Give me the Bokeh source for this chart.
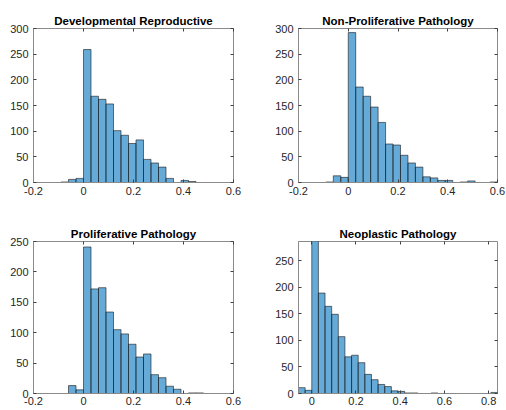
import numpy as np
from bokeh.plotting import figure
from bokeh.layouts import gridplot
from bokeh.models import Range1d, FixedTicker, LinearAxis
from bokeh.embed import file_html
from bokeh.resources import INLINE

# ---------------- data ----------------
titles = ["Developmental Reproductive", "Non-Proliferative Pathology",
          "Proliferative Pathology", "Neoplastic Pathology"]

bin_width = 0.03

dev_start = -0.09
dev_counts = [1, 6, 8, 259, 168, 162, 153, 101, 92, 76, 83, 45, 38, 30, 8, 0, 4, 2]

nonprolif_start = -0.09
nonprolif_counts = [1, 13, 10, 292, 186, 168, 147, 117, 75, 73, 53, 38, 30, 11, 9,
                    4, 4, 0, 1, 3, 0, 0, 1]

prolif_start = -0.06
prolif_counts = [13, 6, 241, 172, 174, 134, 105, 98, 81, 60, 65, 31, 26, 12, 7, 0, 1, 1]

neo_start = -0.06
neo_counts = [11, 6, 300, 189, 164, 149, 107, 69, 72, 58, 36, 26, 17, 13, 5, 4, 1, 1,
              0, 0, 1, 0, 0, 0, 0, 0, 0, 0, 0, 2]

x_ticks_a = [-0.2, 0.0, 0.2, 0.4, 0.6]
x_labels_a = ["-0.2", "0", "0.2", "0.4", "0.6"]
x_ticks_b = [0.0, 0.2, 0.4, 0.6, 0.8]
x_labels_b = ["0", "0.2", "0.4", "0.6", "0.8"]
y_ticks_300 = [0, 50, 100, 150, 200, 250, 300]
y_ticks_250 = [0, 50, 100, 150, 200, 250]

x_range_a = (-0.2, 0.6)
x_range_b = (-0.06, 0.84)
y_range_1 = (0, 300)
y_range_2 = (0, 300)
y_range_3 = (0, 250)
y_range_4 = (0, 286)

FONT = "Liberation Sans"
BOX = "#8a8a8a"
TICK = "#404040"
LABEL = "#262626"


def panel(title, start, counts, xr, yr, xticks, xlabels, yticks,
          border_left, frame_w, border_right, border_top, frame_h, border_bottom,
          x_standoff):
    p = figure(frame_width=frame_w, frame_height=frame_h,
               min_border_left=border_left, min_border_right=border_right,
               min_border_top=border_top, min_border_bottom=border_bottom,
               x_range=Range1d(*xr), y_range=Range1d(*yr),
               output_backend="svg", toolbar_location=None, tools="")
    counts = np.array(counts, dtype=float)
    left = start + bin_width * np.arange(len(counts))
    p.quad(left=left, right=left + bin_width, bottom=0, top=counts,
           fill_color="#0072BD", fill_alpha=0.6,
           line_color="#1a1a1a", line_width=0.6)

    p.title.text = title
    p.title.align = "center"
    p.title.text_font = FONT
    p.title.text_font_size = "11.5px"
    p.title.text_font_style = "bold"
    p.title.text_color = "#000000"
    p.title.standoff = 3

    p.xgrid.visible = False
    p.ygrid.visible = False
    p.outline_line_color = BOX
    p.outline_line_width = 1
    p.background_fill_color = "white"
    p.border_fill_color = "white"

    for ax, ticks, labels, so in ((p.xaxis[0], xticks, xlabels, x_standoff),
                                  (p.yaxis[0], yticks, [str(t) for t in yticks], 5)):
        ax.ticker = FixedTicker(ticks=ticks)
        ax.major_label_overrides = {t: l for t, l in zip(ticks, labels)}
        ax.major_label_text_font = FONT
        ax.major_label_text_font_size = "11px"
        ax.major_label_text_color = LABEL
        ax.major_tick_in = 3
        ax.major_tick_out = 0
        ax.major_tick_line_color = TICK
        ax.minor_tick_line_color = None
        ax.axis_line_color = BOX
        ax.major_label_standoff = so

    for loc, ticks in (("right", yticks), ("above", xticks)):
        ax = LinearAxis(ticker=FixedTicker(ticks=ticks),
                        major_label_overrides={t: "" for t in ticks},
                        major_label_text_font_size="0px",
                        major_label_standoff=0,
                        major_tick_in=3, major_tick_out=0,
                        major_tick_line_color=TICK,
                        minor_tick_line_color=None,
                        axis_line_color=None)
        p.add_layout(ax, loc)
    return p


# page has no margin: frames placed at reference pixel positions
p1 = panel(titles[0], dev_start, dev_counts, x_range_a, y_range_1, x_ticks_a, x_labels_a,
           y_ticks_300, 33, 200, 25, 28, 154, 30, 4)
p2 = panel(titles[1], nonprolif_start, nonprolif_counts, x_range_a, y_range_2, x_ticks_a,
           x_labels_a, y_ticks_300, 40, 199, 8, 28, 154, 30, 4)
p3 = panel(titles[2], prolif_start, prolif_counts, x_range_a, y_range_3, x_ticks_a, x_labels_a,
           y_ticks_250, 33, 200, 25, 29, 152, 17, 3)
p4 = panel(titles[3], neo_start, neo_counts, x_range_b, y_range_4, x_ticks_b, x_labels_b,
           y_ticks_250, 40, 199, 8, 29, 152, 17, 3)

grid = gridplot([[p1, p2], [p3, p4]], toolbar_location=None)

open("out.html", "w").write(file_html(grid, INLINE))
